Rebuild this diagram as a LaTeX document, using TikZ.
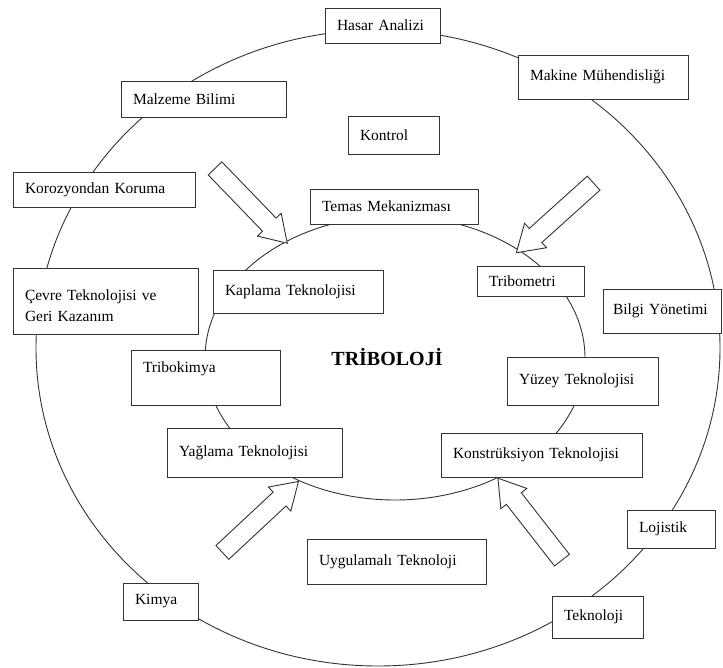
\documentclass[tikz,border=0pt]{standalone}
\usepackage{fontspec}
\setmainfont{Liberation Serif}
\usetikzlibrary{shapes,shapes.arrows,positioning}

\begin{document}
\begin{tikzpicture}[x=1pt,y=-1pt]
	\tikzset{kutu/.style={rectangle, draw=black!80, fill=white, line width=0.9pt, align=left, inner xsep=12pt, inner ysep=2pt, font=\fontsize{15.5}{21}\selectfont}};
	\tikzset{ok/.style={single arrow, draw=black!80, fill=white, line width=0.9pt, minimum height=104pt, inner sep=9pt, single arrow head extend=7pt, single arrow tip angle=65}};
	\tikzset{baslik/.style={font=\fontsize{20}{24}\selectfont\bfseries}};
	\useasboundingbox (0,0) rectangle (723,668);
	% Place circles
	\draw [line width=0.9pt, black!80] (378,348) ellipse [x radius=342pt, y radius=318pt];
	\draw [line width=0.9pt, black!80] (395,358) ellipse [x radius=190pt, y radius=142pt];
	% Place outer boxes
	\node [kutu, text width=91pt, minimum height=35pt] (hasar) at (382.5,25.5) {Hasar Analizi};
	\node [kutu, text width=146pt, minimum height=44pt] (makine) at (603,77) {Makine Mühendisliği};
	\node [kutu, text width=141pt, minimum height=36pt] (malzeme) at (203.5,99) {Malzeme Bilimi};
	\node [kutu, text width=158pt, minimum height=35pt] (korozyon) at (104,189.5) {Korozyondan Koruma};
	\node [kutu, text width=161pt, minimum height=66pt, text depth=12pt] (cevre) at (105.5,301) {Çevre Teknolojisi ve\\Geri Kazanım};
	\node [kutu, text width=98pt, inner xsep=10pt, minimum height=44pt] (bilgi) at (662,311) {Bilgi Yönetimi};
	\node [kutu, text width=64pt, minimum height=38pt] (lojistik) at (671,529) {Lojistik};
	\node [kutu, text width=67pt, minimum height=42pt] (teknoloji) at (597.5,617) {Teknoloji};
	\node [kutu, text width=51pt, minimum height=37pt] (kimya) at (160.5,601.5) {Kimya};
	% Place middle boxes
	\node [kutu, text width=67pt, minimum height=38pt] (kontrol) at (393.5,135) {Kontrol};
	\node [kutu, text width=155pt, minimum height=45pt] (uygulama) at (396.5,561.5) {Uygulamalı Teknoloji};
	% Place inner boxes
	\node [kutu, text width=144pt, minimum height=35pt] (temas) at (394,206.5) {Temas Mekanizması};
	\node [kutu, text width=83pt, minimum height=30pt] (tribometri) at (530.5,281) {Tribometri};
	\node [kutu, text width=146pt, minimum height=43pt] (kaplama) at (298,291.5) {Kaplama Teknolojisi};
	\node [kutu, text width=125pt, minimum height=55pt, text depth=20pt] (tribokimya) at (205.5,377.5) {Tribokimya};
	\node [kutu, text width=127pt, minimum height=48pt] (yuzey) at (582.5,381) {Yüzey Teknolojisi};
	\node [kutu, text width=151pt, minimum height=49pt] (yaglama) at (254.5,452.5) {Yağlama Teknolojisi};
	\node [kutu, text width=177pt, minimum height=44pt] (konstruksiyon) at (541.5,455) {Konstrüksiyon Teknolojisi};
	\node [baslik] (triboloji) at (387,357) {TRİBOLOJİ};
	% Place arrows
	\node [ok, rotate=-46] (okSolUst) at (246,200.5) {};
	\node [ok, rotate=-138] (okSagUst) at (560.5,213) {};
	\node [ok, rotate=43] (okSolAlt) at (255,522) {};
	\node [ok, rotate=128] (okSagAlt) at (534.5,525) {};
\end{tikzpicture}
\end{document}
